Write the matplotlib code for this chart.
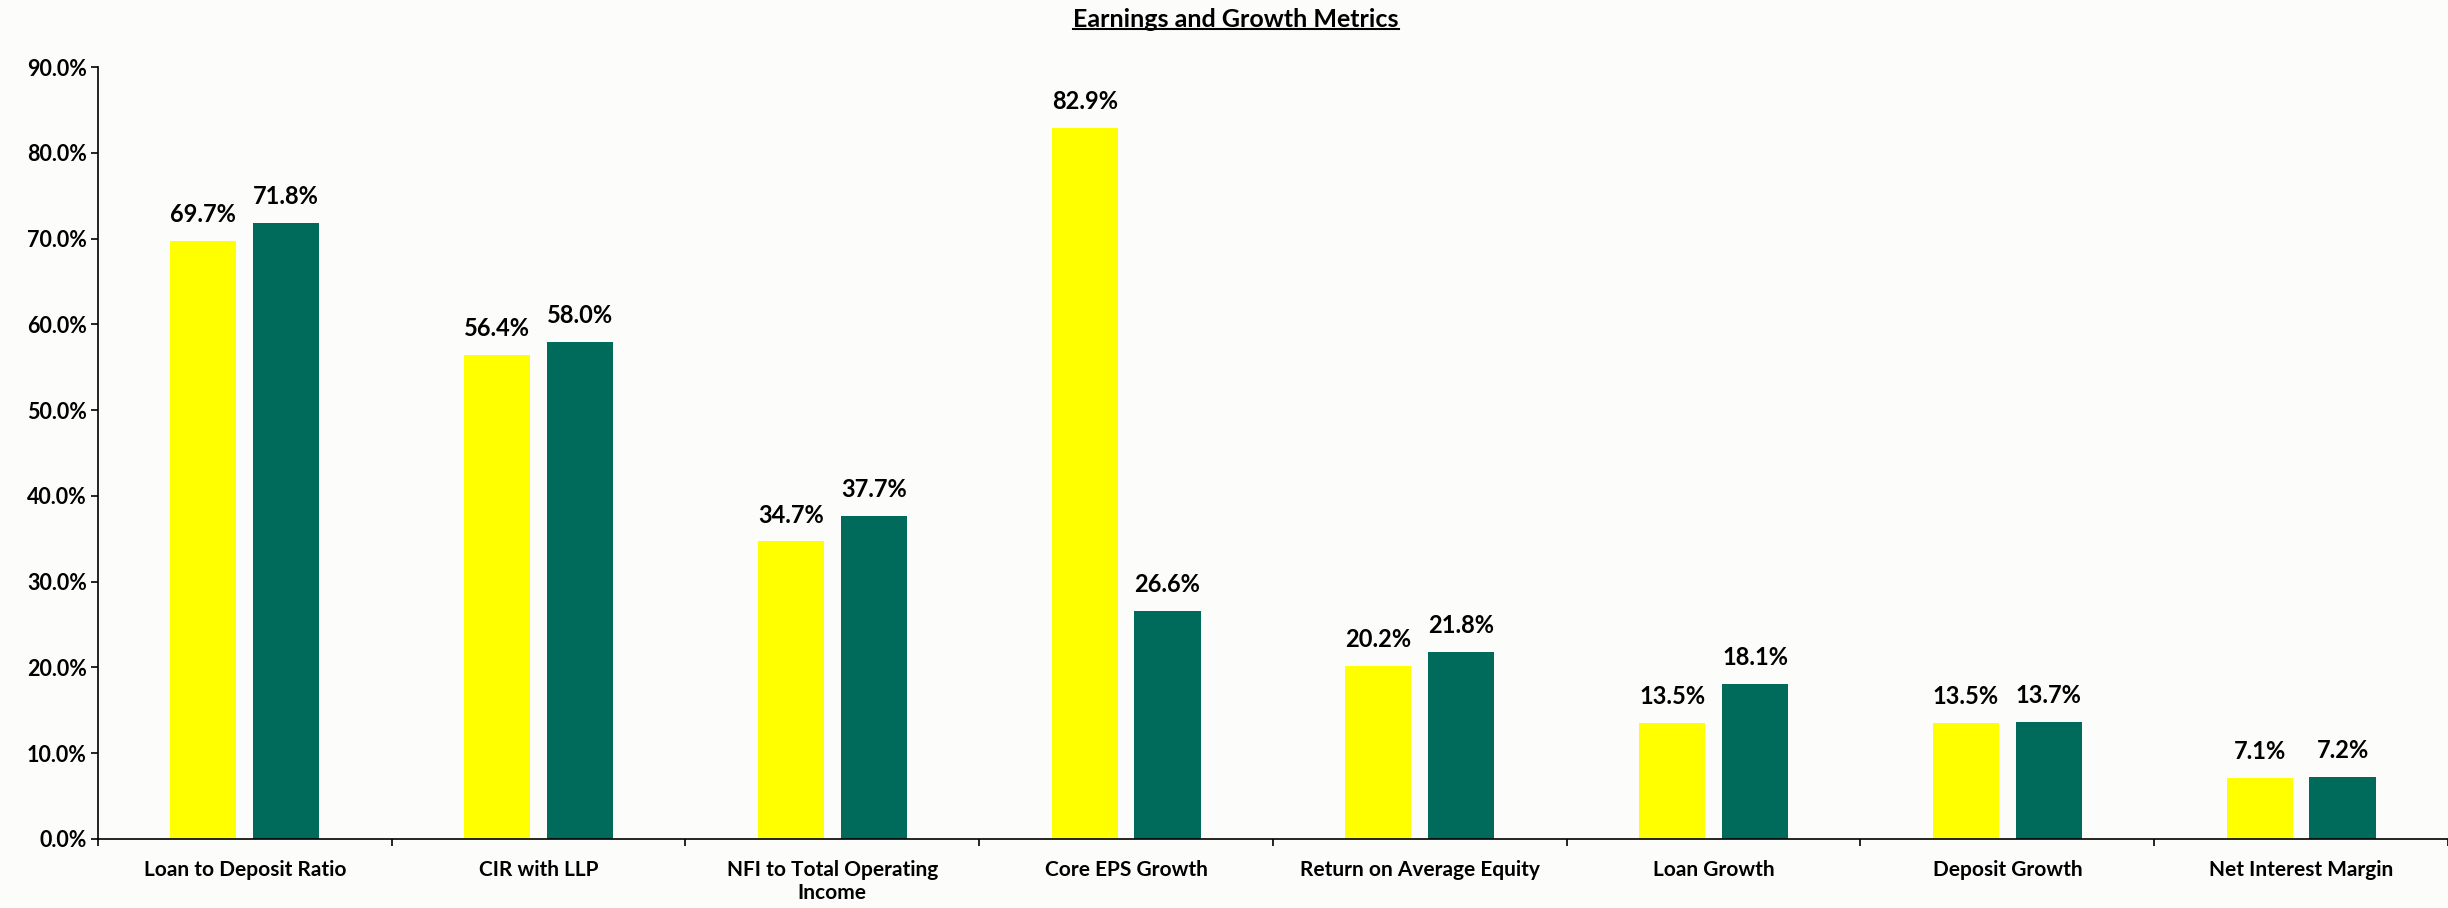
import matplotlib.pyplot as plt
import numpy as np
from matplotlib.lines import Line2D
from matplotlib.ticker import FuncFormatter

plt.rcParams['font.family'] = ['Lato', 'DejaVu Sans']
plt.rcParams['font.weight'] = 'bold'

categories = ["Loan to Deposit Ratio", "CIR with LLP", "NFI to Total Operating\nIncome",
              "Core EPS Growth", "Return on Average Equity", "Loan Growth",
              "Deposit Growth", "Net Interest Margin"]
series_a = [69.7, 56.4, 34.7, 82.9, 20.2, 13.5, 13.5, 7.1]
series_b = [71.8, 58.0, 37.7, 26.6, 21.8, 18.1, 13.7, 7.2]

bg = '#fcfcfa'
fig = plt.figure(figsize=(24.48, 9.08), dpi=100, facecolor=bg)
ax = fig.add_axes([0.0400, 0.076, 0.960, 0.850])
ax.set_facecolor(bg)

x = np.arange(len(categories))
w = 0.225
off = 0.141
bars_a = ax.bar(x - off, series_a, w, color='#ffff00')
bars_b = ax.bar(x + off, series_b, w, color='#006b5a')

# data labels
for bars, vals in [(bars_a, series_a), (bars_b, series_b)]:
    for b, v in zip(bars, vals):
        ax.annotate(f"{v:.1f}%", (b.get_x() + b.get_width() / 2, v),
                    xytext=(0, 19), textcoords='offset points',
                    ha='center', va='center', fontsize=17, fontweight='bold')

ax.set_xlim(-0.5, len(categories) - 0.5)
ax.set_ylim(0, 90)
ax.set_yticks(np.arange(0, 91, 10))
ax.yaxis.set_major_formatter(FuncFormatter(lambda v, p: f"{v:.1f}%"))
ax.tick_params(axis='y', direction='out', length=5, width=1.2, pad=3, labelsize=15.5)

# category boundary ticks + centred labels
ax.set_xticks(np.arange(-0.5, len(categories) + 0.5, 1))
ax.set_xticklabels([])
ax.set_xticks(x, minor=True)
ax.set_xticklabels(categories, minor=True, fontsize=15, fontweight='bold')
ax.tick_params(axis='x', which='major', direction='out', length=5, width=1.2)
ax.tick_params(axis='x', which='minor', length=0, pad=15)

ax.spines['right'].set_color('none')
ax.spines['top'].set_color('none')
ax.spines['left'].set_linewidth(1.2)
ax.spines['bottom'].set_linewidth(1.2)

# underlined title
t = fig.text(0.505, 0.979, "Earnings and Growth Metrics", ha='center', va='center',
             fontsize=18, fontweight='bold')
fig.canvas.draw()
bb = t.get_window_extent().transformed(fig.transFigure.inverted())
fig.add_artist(Line2D([bb.x0, bb.x1], [bb.y0 + 0.002, bb.y0 + 0.002], color='black',
                      linewidth=1.5, transform=fig.transFigure))

fig.savefig("out.png", dpi=100, facecolor=bg)
